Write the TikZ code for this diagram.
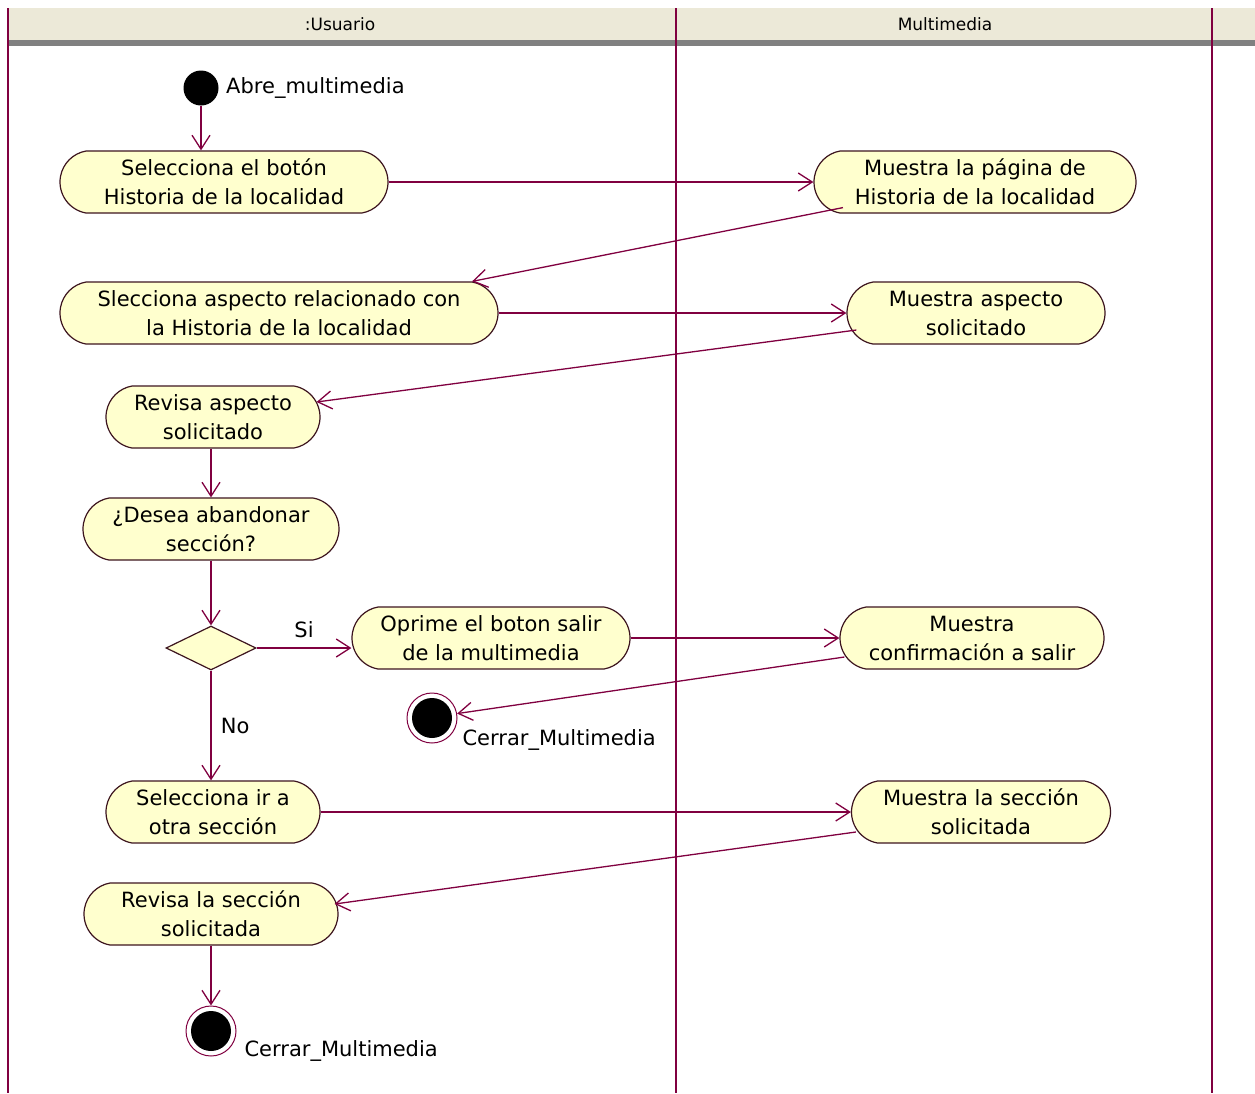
\documentclass[tikz,border=0pt]{standalone}
\usepackage{fontspec}
\setmainfont{DejaVu Sans}
\usetikzlibrary{shapes.misc,shapes.geometric,arrows.meta}

\definecolor{lanec}{RGB}{128,0,64}
\definecolor{actfill}{RGB}{255,255,206}
\definecolor{headfill}{RGB}{236,233,216}
\definecolor{edgec}{RGB}{60,20,30}

\tikzset{
  activity/.style={rounded rectangle, rounded rectangle arc length=160,
    draw=edgec, line width=1.2pt, fill=actfill, align=center, minimum height=62pt,
    inner xsep=2pt, font=\fontsize{21}{29}\selectfont},
  decision/.style={diamond, draw=edgec, line width=1.2pt, fill=actfill, minimum width=90pt,
    minimum height=44pt, inner sep=0pt},
  start/.style={circle, fill=black, minimum size=35pt, inner sep=0pt},
  final/.style={circle, draw=lanec, line width=1pt, fill=white, minimum size=50pt, inner sep=0pt,
    path picture={\fill[black] (path picture bounding box.center) circle (20pt);}},
  flow/.style={draw=lanec, line width=1.3pt, -{Straight Barb[length=14pt,width=18pt]}},
  lbl/.style={font=\fontsize{21}{25}\selectfont},
  lane/.style={draw=lanec, line width=1.2pt}
}

\begin{document}
\begin{tikzpicture}[x=1pt,y=-1pt]
  \useasboundingbox (0,0) rectangle (1255,1093);

  % swimlane header
  \fill[headfill] (8,8) rectangle (1255,40);
  \fill[gray] (8,40) rectangle (1255,46);
  \draw[lane] (8,8) -- (8,1093);
  \draw[lane] (676,8) -- (676,1093);
  \draw[lane] (1212,8) -- (1212,1093);
  \node[font=\fontsize{17}{19}\selectfont] (usr) at (340,24) {:Usuario};
  \node[font=\fontsize{17}{19}\selectfont] (mul) at (945,24) {Multimedia};

  % start
  \node[start] (init) at (201,88) {};
  \node[lbl, right=4pt] (abre) at (init.east) {Abre\_multimedia};

  % activities
  \node[activity, minimum width=332pt] (selHist) at (224,182) {Selecciona el botón\\Historia de la localidad};
  \node[activity, minimum width=326pt] (musHist) at (975,182) {Muestra la página de\\Historia de la localidad};
  \node[activity, minimum width=442pt] (selAsp) at (279,313) {Slecciona aspecto relacionado con\\la Historia de la localidad};
  \node[activity, minimum width=262pt] (musAsp) at (976,313) {Muestra aspecto\\solicitado};
  \node[activity, minimum width=218pt] (revAsp) at (213,417) {Revisa aspecto\\solicitado};
  \node[activity, minimum width=260pt] (desea) at (211,529) {¿Desea abandonar\\sección?};
  \node[decision] (dec) at (211,648) {};
  \node[activity, minimum width=282pt] (oprime) at (491,638) {Oprime el boton salir\\de la multimedia};
  \node[activity, minimum width=268pt] (confirma) at (972,638) {Muestra\\confirmación a salir};
  \node[final] (fin1) at (432,718) {};
  \node[lbl, anchor=west] (cerrar1) at (459,740) {Cerrar\_Multimedia};
  \node[activity, minimum width=218pt] (selOtra) at (213,812) {Selecciona ir a\\otra sección};
  \node[activity, minimum width=263pt] (musSec) at (981,812) {Muestra la sección\\solicitada};
  \node[activity, minimum width=258pt] (revSec) at (211,914) {Revisa la sección\\solicitada};
  \node[final] (fin2) at (211,1031) {};
  \node[lbl, anchor=west] (cerrar2) at (241,1051) {Cerrar\_Multimedia};

  % transitions
  \draw[flow] (init) -- (init |- selHist.north);
  \draw[flow] (selHist.east) -- (musHist.west);
  \draw[flow] ([shift={(3,-6)}]musHist.south west) -- (selAsp.north east);
  \draw[flow] (selAsp.east) -- (musAsp.west);
  \draw[flow] ([shift={(10,17)}]musAsp.west) -- ([shift={(-4,-15)}]revAsp.east);
  \draw[flow] (revAsp.south -| dec) -- (desea.north -| dec);
  \draw[flow] (desea.south -| dec) -- (dec.north);
  \draw[flow] (dec.east) -- node[lbl, above=6pt] {Si} (dec.east -| oprime.west);
  \draw[flow] (dec.south) -- node[lbl, right=6pt] {No} (dec.south |- selOtra.north);
  \draw[flow] (oprime.east) -- (oprime.east -| confirma.west);
  \draw[flow] ([shift={(5,19)}]confirma.west) -- (fin1.10);
  \draw[flow] (selOtra.east) -- (selOtra.east -| musSec.west);
  \draw[flow] ([shift={(5,20)}]musSec.west) -- ([shift={(-4,-10)}]revSec.east);
  \draw[flow] (revSec.south -| fin2) -- (fin2.north);
\end{tikzpicture}
\end{document}
